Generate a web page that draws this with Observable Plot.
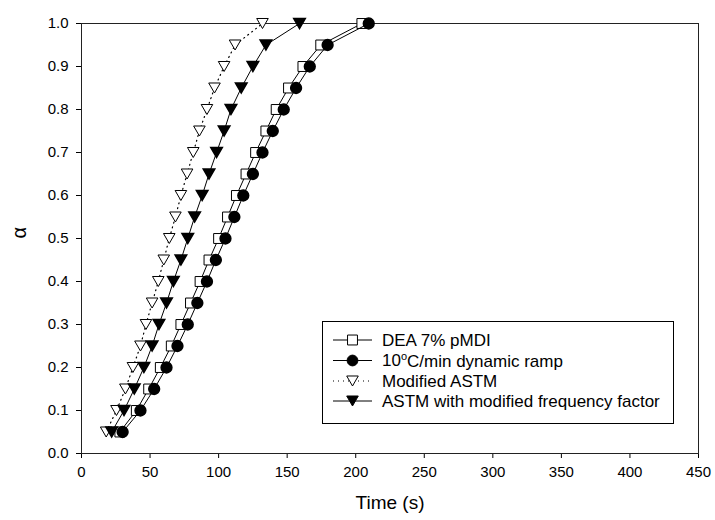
<!DOCTYPE html>
<html><head><meta charset="utf-8">
<script src="https://cdn.jsdelivr.net/npm/d3@7"></script>
<script src="https://cdn.jsdelivr.net/npm/@observablehq/plot@0.6"></script>
<style>body{margin:0;background:#fff;} #chart svg{display:block;}</style>
</head><body><div id="chart"></div>
<script>
// ---- data ----
const alpha = [0.05,0.10,0.15,0.20,0.25,0.30,0.35,0.40,0.45,0.50,0.55,0.60,0.65,0.70,0.75,0.80,0.85,0.90,0.95,1.00];
const deaTime      = [28, 40, 49, 57.5, 65.5, 72.5, 79.5, 86.5, 93, 100, 106.5, 113, 120, 127, 134.5, 142, 151, 161.5, 174.5, 204.5];
const rampTime     = [30, 43, 53, 62, 70, 77.5, 84.5, 91.5, 98, 105, 111.5, 118, 125, 132, 139.5, 147.5, 156.5, 166.5, 179.5, 209.5];
const modAstmTime  = [18, 25.5, 32, 37.5, 43, 47, 51.5, 56, 60, 64, 68.5, 72.5, 77, 81.5, 86, 91.5, 97, 104, 112, 132];
const astmFreqTime = [22, 31, 38.5, 45.5, 51.5, 56.5, 62, 67, 72.5, 77.5, 82.5, 88, 93, 98.5, 104, 109, 116.5, 125, 134.5, 159];
const seriesNames = ["DEA 7% pMDI", "10°C/min dynamic ramp", "Modified ASTM", "ASTM with modified frequency factor"];
const xTicks = [0, 50, 100, 150, 200, 250, 300, 350, 400, 450];
const yTicks = [0, 0.1, 0.2, 0.3, 0.4, 0.5, 0.6, 0.7, 0.8, 0.9, 1.0];

const toRows = (times) => times.map((t, i) => ({t, a: alpha[i]}));
const dea = toRows(deaTime), ramp = toRows(rampTime), modAstm = toRows(modAstmTime), astmFreq = toRows(astmFreqTime);

// downward triangle symbol
const triDown = {
  draw(ctx, size) {
    const s = Math.sqrt(size / (Math.sqrt(3) / 4));
    const h = s * Math.sqrt(3) / 2;
    ctx.moveTo(-s / 2, -h / 2);
    ctx.lineTo(s / 2, -h / 2);
    ctx.lineTo(0, h / 2);
    ctx.closePath();
  }
};

const font = "Arial, 'Liberation Sans', sans-serif";
const rSq = 5.6, rCi = 5.4, rTri = 4.3;

const chart = Plot.plot({
  width: 715, height: 520,
  marginLeft: 81, marginRight: 17, marginTop: 23, marginBottom: 67,
  style: {fontFamily: font, fontSize: "15px", color: "black", background: "white"},
  x: {domain: [0, 450], ticks: xTicks, tickSize: 5, tickPadding: 8, tickFormat: d3.format("d"), label: null},
  y: {domain: [0, 1], ticks: yTicks, tickSize: 5, tickPadding: 8, tickFormat: d3.format(".1f"), label: null},
  marks: [
    Plot.frame({stroke: "#222"}),
    Plot.line(dea, {x: "t", y: "a", stroke: "black", strokeWidth: 1}),
    Plot.dot(dea, {x: "t", y: "a", symbol: "square", r: rSq, fill: "white", stroke: "black", strokeWidth: 1}),
    Plot.line(ramp, {x: "t", y: "a", stroke: "black", strokeWidth: 1}),
    Plot.dot(ramp, {x: "t", y: "a", symbol: "circle", r: rCi, fill: "black", stroke: "black"}),
    Plot.line(modAstm, {x: "t", y: "a", stroke: "black", strokeWidth: 1.2, strokeDasharray: "1,4"}),
    Plot.dot(modAstm, {x: "t", y: "a", symbol: triDown, r: rTri, fill: "white", stroke: "black", strokeWidth: 1}),
    Plot.line(astmFreq, {x: "t", y: "a", stroke: "black", strokeWidth: 1}),
    Plot.dot(astmFreq, {x: "t", y: "a", symbol: triDown, r: rTri, fill: "black", stroke: "black"}),
    Plot.text(["Time (s)"], {frameAnchor: "bottom", dy: 55, fontSize: 19, fill: "black"}),
    Plot.text(["α"], {frameAnchor: "left", dx: -62, rotate: -90, fontSize: 20, fill: "black"})
  ]
});
document.getElementById("chart").appendChild(chart);

// ---- legend (drawn into the plot SVG) ----
const svg = d3.select(chart);
const box = {x: 322, y: 321, w: 351, h: 102};
const lg = svg.append("g").attr("font-family", font).attr("font-size", 17).attr("text-anchor", "start");
lg.append("rect").attr("x", box.x + 0.5).attr("y", box.y + 0.5).attr("width", box.w).attr("height", box.h)
  .attr("fill", "white").attr("stroke", "black");
const rowY = [340, 360.5, 381, 401];
const styles = [
  {sym: d3.symbolSquare, r: rSq, fill: "white", dash: null},
  {sym: d3.symbolCircle, r: rCi, fill: "black", dash: null},
  {sym: triDown, r: rTri, fill: "white", dash: "1,4"},
  {sym: triDown, r: rTri, fill: "black", dash: null}
];
seriesNames.forEach((name, i) => {
  const y = rowY[i], st = styles[i];
  lg.append("line").attr("x1", 333).attr("x2", 372).attr("y1", y).attr("y2", y)
    .attr("stroke", "black").attr("stroke-width", st.dash ? 1.2 : 1).attr("stroke-dasharray", st.dash);
  lg.append("path").attr("d", d3.symbol(st.sym, st.r * st.r * Math.PI)())
    .attr("transform", `translate(352.5,${y})`).attr("fill", st.fill).attr("stroke", "black");
  const t = lg.append("text").attr("x", 382).attr("y", y).attr("dy", "0.35em").attr("fill", "black")
    .attr("text-anchor", "start");
  if (name.includes("°C")) {
    const [pre, post] = name.split("°");
    t.append("tspan").text(pre);
    t.append("tspan").attr("font-size", 11).attr("dy", "-0.55em").text("o");
    t.append("tspan").attr("dy", "0.38em").text(post);
  } else {
    t.text(name);
  }
});
</script>
</body></html>
